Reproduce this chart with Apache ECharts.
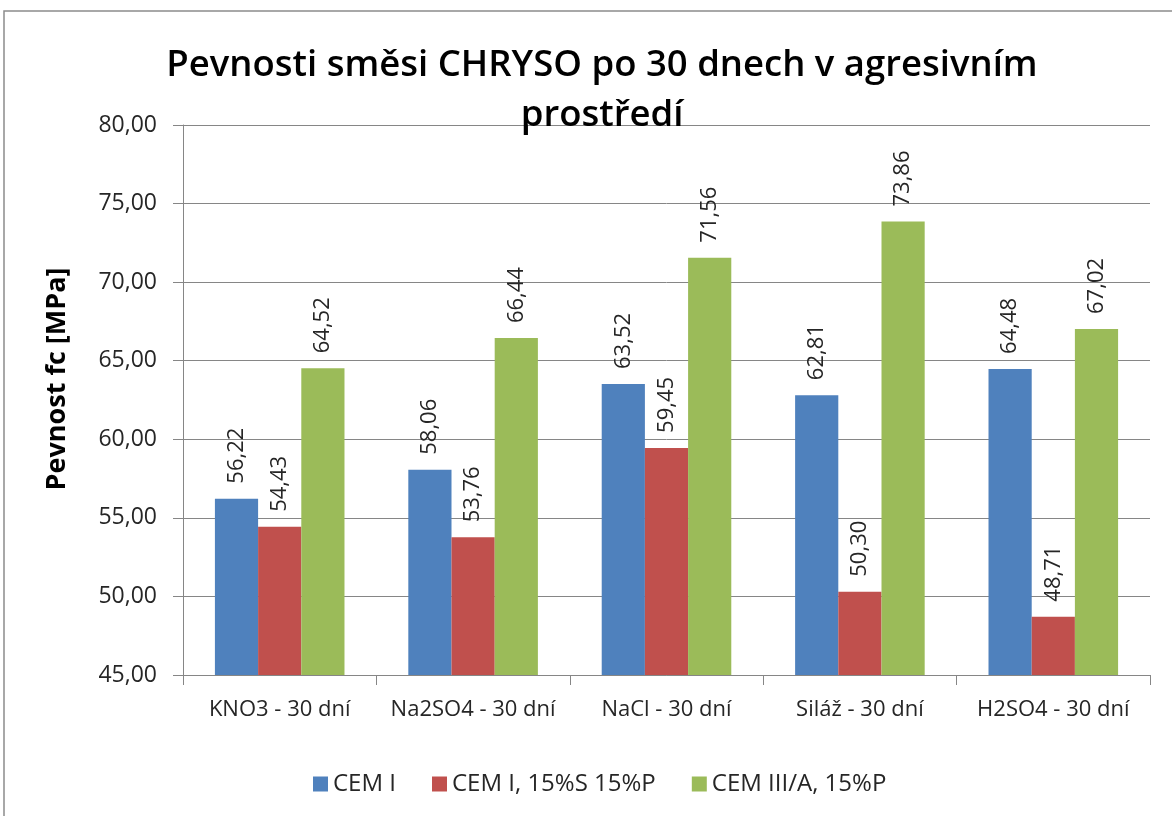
<!DOCTYPE html>
<html>
<head>
<meta charset="utf-8">
<script src="https://cdn.jsdelivr.net/npm/echarts@6/dist/echarts.min.js"></script>
<style>
  html, body { margin: 0; padding: 0; background: #fff; }
  #chart { width: 1172px; height: 816px; }
</style>
</head>
<body>
<div id="chart"></div>
<script>
const categories = ["KNO3 - 30 dní", "Na2SO4 - 30 dní", "NaCl - 30 dní", "Siláž - 30 dní", "H2SO4 - 30 dní"];
const seriesNames = ["CEM I", "CEM I, 15%S 15%P", "CEM III/A, 15%P"];
const cemI = [56.22, 58.06, 63.52, 62.81, 64.48];
const cemISP = [54.43, 53.76, 59.45, 50.30, 48.71];
const cemIIIA = [64.52, 66.44, 71.56, 73.86, 67.02];
const colors = ["#4F81BD", "#C0504D", "#9BBB59"];

const font = "'Open Sans', 'Noto Sans', sans-serif";
const fmt = (v) => v.toFixed(2).replace(".", ",");

const myChart = echarts.init(document.getElementById("chart"));

const makeSeries = (name, data, color) => ({
  name,
  type: "bar",
  data,
  barGap: "0%",
  barCategoryGap: "33%",
  itemStyle: { color },
  label: {
    show: true,
    position: "top",
    rotate: 90,
    align: "left",
    verticalAlign: "middle",
    distance: 15,
    fontFamily: font,
    fontSize: 22,
    color: "#262626",
    formatter: (p) => fmt(p.value),
  },
});

let options = {
  animation: false,
  title: {
    text: "Pevnosti směsi CHRYSO po 30 dnech v agresivním\nprostředí",
    left: 597,
    textAlign: "center",
    top: 36,
    textStyle: {
      fontFamily: font,
      fontWeight: 600,
      fontSize: 36.5,
      lineHeight: 50,
      color: "#000",
    },
  },
  graphic: [
    {
      type: "rect",
      shape: { x: 4, y: 11, width: 1200, height: 900 },
      style: { fill: "none", stroke: "#8c8c8c", lineWidth: 1.5 },
      silent: true,
    },
    {
      // y axis title
      type: "text",
      x: 57,
      y: 379,
      rotation: Math.PI / 2,
      style: {
        text: "Pevnost fc [MPa]",
        fontFamily: font,
        fontWeight: "bold",
        fontSize: 27,
        fill: "#000",
        align: "center",
        verticalAlign: "middle",
      },
      silent: true,
    },
  ],
  legend: {
    data: seriesNames,
    top: 767,
    left: 308,
    itemWidth: 15,
    itemHeight: 15,
    itemGap: 36,
    icon: "rect",
    textStyle: { fontFamily: font, fontSize: 24, color: "#262626" },
  },
  grid: { left: 183, right: 22, top: 125, bottom: 141 },
  xAxis: {
    type: "category",
    data: categories,
    axisLine: { lineStyle: { color: "#868686" } },
    axisTick: { show: true, interval: 0, length: 10, lineStyle: { color: "#868686" } },
    axisLabel: {
      interval: 0,
      margin: 24,
      fontFamily: font,
      fontSize: 22,
      color: "#262626",
    },
  },
  yAxis: {
    type: "value",
    min: 45,
    max: 80,
    interval: 5,
    axisLine: { show: true, lineStyle: { color: "#868686" } },
    axisTick: { show: true, length: 10, lineStyle: { color: "#868686" } },
    splitLine: { lineStyle: { color: "#868686" } },
    axisLabel: {
      margin: 26,
      fontFamily: font,
      fontSize: 23,
      color: "#262626",
      formatter: (v) => fmt(v),
    },
  },
  series: [
    makeSeries(seriesNames[0], cemI, colors[0]),
    makeSeries(seriesNames[1], cemISP, colors[1]),
    makeSeries(seriesNames[2], cemIIIA, colors[2]),
  ],
};

myChart.setOption(options);
</script>
</body>
</html>
